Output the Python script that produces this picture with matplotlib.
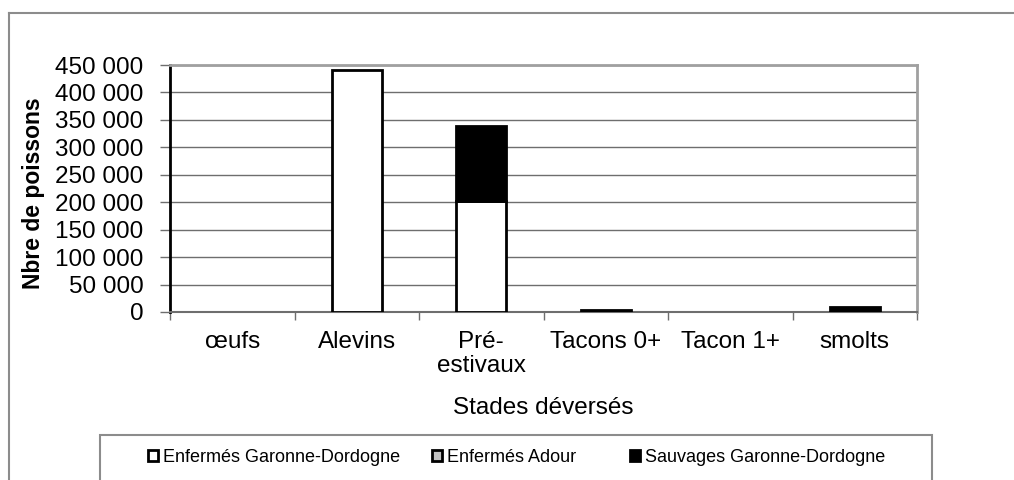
import matplotlib
matplotlib.use("Agg")
import matplotlib.pyplot as plt
from matplotlib.patches import Rectangle, Patch
from matplotlib.lines import Line2D
from matplotlib.ticker import FuncFormatter, MultipleLocator
import numpy as np

plt.rcParams['font.family'] = ['Liberation Sans', 'DejaVu Sans']

categories = ['œufs', 'Alevins', 'Pré-\nestivaux', 'Tacons 0+', 'Tacon 1+', 'smolts']
series_names = ['Enfermés Garonne-Dordogne', 'Enfermés Adour', 'Sauvages Garonne-Dordogne']
enfermes_gd = [0, 440000, 202000, 0, 0, 0]
enfermes_adour = [0, 0, 0, 0, 0, 0]
sauvages_gd = [0, 0, 137000, 4000, 0, 9000]
series_colors = ['white', '#c0c0c0', 'black']

W, H = 1014, 480
fig = plt.figure(figsize=(W / 100, H / 100), dpi=100)
fig.patch.set_facecolor('white')

# outer chart border (gray, left and top visible)
fig.add_artist(Line2D([9 / W, 9 / W], [0, 1 - 13 / H], transform=fig.transFigure,
                      color='#8c8c8c', lw=1.5))
fig.add_artist(Line2D([9 / W, 1], [1 - 13 / H, 1 - 13 / H], transform=fig.transFigure,
                      color='#8c8c8c', lw=1.5))

ax = fig.add_axes([170 / W, 1 - 312 / H, (917 - 170) / W, (312 - 65) / H])
x = np.arange(len(categories))
width = 0.4
bottom = np.zeros(len(categories))
for vals, col, name in zip([enfermes_gd, enfermes_adour, sauvages_gd], series_colors, series_names):
    vals = np.array(vals, dtype=float)
    mask = vals > 0
    ax.bar(x[mask], vals[mask], width, bottom=bottom[mask], color=col,
           edgecolor='black', linewidth=2, zorder=3, label=name)
    bottom += vals

ax.set_xlim(-0.5, len(categories) - 0.5)
ax.set_ylim(0, 450000)
ax.yaxis.set_major_locator(MultipleLocator(50000))
ax.yaxis.set_major_formatter(FuncFormatter(lambda v, p: f"{int(v):,}".replace(',', ' ')))
ax.grid(axis='y', color='#6e6e6e', lw=1, zorder=0)
ax.set_axisbelow(True)

ax.set_xticks(x)
ax.set_xticklabels(categories, fontsize=17.5, linespacing=1.12)
ax.set_xticks(np.arange(len(categories) + 1) - 0.5, minor=True)
ax.tick_params(axis='x', which='major', length=0, pad=14)
ax.tick_params(axis='x', which='minor', length=6, width=1, color='#6e6e6e', direction='out')
ax.tick_params(axis='y', which='major', length=7, width=1, color='#6e6e6e',
               labelsize=17.5, pad=12, direction='out')

for s in ['top', 'right']:
    ax.spines[s].set_color('#a0a0a0')
    ax.spines[s].set_linewidth(2)
ax.spines['left'].set_color('black')
ax.spines['left'].set_linewidth(2)
ax.spines['bottom'].set_color('#6e6e6e')
ax.spines['bottom'].set_linewidth(1.5)

ax.set_ylabel('Nbre de poissons', fontsize=16.5, fontweight='bold')
ax.yaxis.set_label_coords(-(170 - 45) / (917 - 170), 0.48)
ax.set_xlabel('Stades déversés', fontsize=17.5)
ax.xaxis.set_label_coords(0.5, -(408 - 312) / (312 - 65))
ax.xaxis.label.set_va('center')

# legend box
fig.add_artist(Rectangle((100 / W, -0.05), (932 - 100) / W, 0.05 + 1 - 435 / H,
                         transform=fig.transFigure, facecolor='white',
                         edgecolor='#8c8c8c', lw=1.5))
leg_x = [148, 432, 630]
for name, col, lx in zip(series_names, series_colors, leg_x):
    h = Patch(facecolor=col, edgecolor='black', linewidth=2)
    fig.legend([h], [name], loc='center left',
               bbox_to_anchor=(lx / W, 1 - 457 / H), frameon=False,
               fontsize=13, handlelength=0.55, handleheight=0.55,
               handletextpad=0.3, borderpad=0, borderaxespad=0)

fig.savefig('out.png', dpi=100, facecolor='white')
